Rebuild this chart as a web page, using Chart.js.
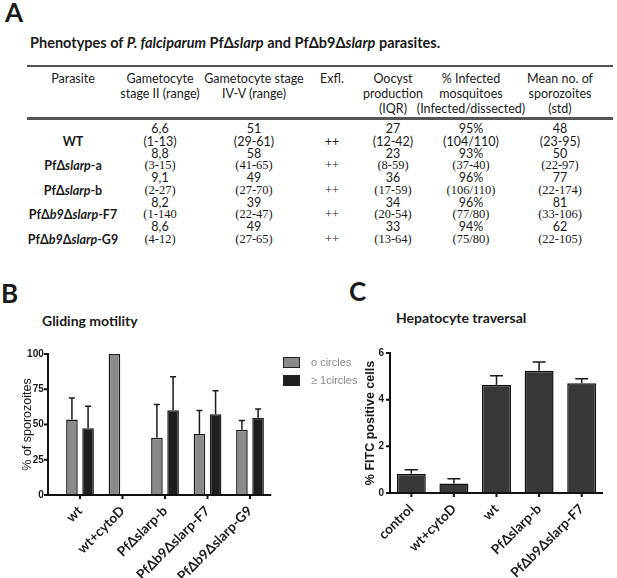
<!DOCTYPE html>
<html>
<head>
<meta charset="utf-8">
<script src="https://cdn.jsdelivr.net/npm/chart.js@4"></script>
<style>
  body { margin: 0; background: #fff; }
  #page { position: relative; width: 617px; height: 578px; overflow: hidden; font-family: Lato, "Open Sans", sans-serif; color: #1a1a1a; }
  .abs { position: absolute; white-space: nowrap; }
  .big { font-weight: bold; font-size: 26px; }
  .ttl { font-weight: bold; font-size: 14px; }
  .cell { position: absolute; white-space: nowrap; transform: translate(-50%, -50%); font-size: 12.5px; }
  .serif { font-family: "Liberation Serif", serif; font-size: 12.5px; }
  .name { font-weight: bold; }
  .hline { position: absolute; left: 27px; width: 586px; background: #555; }
  canvas { position: absolute; }
  .leg { position: absolute; font-family: "Liberation Sans", Arial, sans-serif; font-size: 11px; color: #8a8a8a; white-space: nowrap; }
  .legbox { position: absolute; width: 15px; height: 9px; border: 1.5px solid #222; }
</style>
</head>
<body>
<div id="page">
  <div class="abs big" style="left:5px; top:-4px;">A</div>
  <div class="abs ttl" style="left:30px; top:34px; font-size:14.5px;">Phenotypes of <i>P. falciparum</i> PfΔ<i>slarp</i> and PfΔb9Δ<i>slarp</i> parasites.</div>
  <div class="hline" style="top:65px; height:1.5px;"></div>
  <div class="hline" style="top:117px; height:2.5px;"></div>
  <div id="table"></div>

  <div class="abs big" style="left:1px; top:277px;">B</div>
  <div class="abs ttl" style="left:42px; top:312px;">Gliding motility</div>
  <div class="abs big" style="left:349px; top:275px;">C</div>
  <div class="abs ttl" style="left:396px; top:309px;">Hepatocyte traversal</div>

  <canvas id="motility" width="310" height="248" style="left:0; top:330px;"></canvas>
  <canvas id="traversal" width="307" height="248" style="left:310px; top:330px;"></canvas>
  <div id="legend"></div>
</div>

<script>
// ---- table A ----
const headers = [
  ['Parasite'],
  ['Gametocyte', 'stage II (range)'],
  ['Gametocyte stage', 'IV-V (range)'],
  ['Exfl.'],
  ['Oocyst', 'production', '(IQR)'],
  ['% Infected', 'mosquitoes', '(Infected/dissected)'],
  ['Mean no. of', 'sporozoites', '(std)']
];
const parasites = ['WT', 'PfΔ<i>slarp</i>-a', 'PfΔ<i>slarp</i>-b', 'PfΔ<i>b9</i>Δ<i>slarp</i>-F7', 'PfΔ<i>b9</i>Δ<i>slarp</i>-G9'];
const gamII = ['6,6', '8,8', '9,1', '8,2', '8,6'];
const gamIIRange = ['(1-13)', '(3-15)', '(2-27)', '(1-140', '(4-12)'];
const gamIV = ['51', '58', '49', '39', '49'];
const gamIVRange = ['(29-61)', '(41-65)', '(27-70)', '(22-47)', '(27-65)'];
const exfl = ['++', '++', '++', '++', '++'];
const oocysts = ['27', '23', '36', '34', '33'];
const oocystIQR = ['(12-42)', '(8-59)', '(17-59)', '(20-54)', '(13-64)'];
const infected = ['95%', '93%', '96%', '96%', '94%'];
const infectedRatio = ['(104/110)', '(37-40)', '(106/110)', '(77/80)', '(75/80)'];
const sporozoites = ['48', '50', '77', '81', '62'];
const sporozoitesStd = ['(23-95)', '(22-97)', '(22-174)', '(33-106)', '(22-105)'];

const colX = [73, 160, 254, 332, 393, 471, 560];
const tableEl = document.getElementById('table');
function cell(x, y, html, cls) {
  const d = document.createElement('div');
  d.className = 'cell ' + (cls || '');
  d.style.left = x + 'px';
  d.style.top = y + 'px';
  d.innerHTML = html;
  tableEl.appendChild(d);
}
headers.forEach((lines, c) => lines.forEach((t, i) => cell(colX[c], 78 + i * 15, t)));

const topLine = [gamII, gamIV, null, oocysts, infected, sporozoites];
const bottomLine = [gamIIRange, gamIVRange, exfl, oocystIQR, infectedRatio, sporozoitesStd];
parasites.forEach((name, r) => {
  const y1 = 128 + r * 24.5, y2 = y1 + 12.5;
  cell(colX[0], y2, name, 'name');
  topLine.forEach((arr, c) => { if (arr) cell(colX[c + 1], y1, arr[r]); });
  bottomLine.forEach((arr, c) => cell(colX[c + 1], y2, arr[r], r === 0 ? '' : 'serif'));
});

// ---- chart data ----
const motilityLabels = ['wt', 'wt+cytoD', 'PfΔslarp-b', 'PfΔb9Δslarp-F7', 'PfΔb9Δslarp-G9'];
const zeroCircles = [53.5, 100, 40.6, 43.2, 46.2];
const zeroCirclesErr = [15.3, 0, 23.5, 16.7, 6.7];
const oneCircles = [47.4, null, 60.1, 57.3, 54.7];
const oneCirclesErr = [15.5, 0, 23.7, 16.7, 6.3];

const traversalLabels = ['control', 'wt+cytoD', 'wt', 'PfΔslarp-b', 'PfΔb9Δslarp-F7'];
const fitcPositive = [0.82, 0.41, 4.64, 5.24, 4.70];
const fitcPositiveErr = [0.18, 0.2, 0.39, 0.37, 0.2];

// error bars (upper only) + prism-style axes
const prismPlugin = {
  id: 'prism',
  afterDatasetsDraw(chart, args, opts) {
    const ctx = chart.ctx;
    const y = chart.scales.y, x = chart.scales.x;
    const area = chart.chartArea;
    ctx.save();
    ctx.strokeStyle = '#1a1a1a';
    ctx.lineWidth = 1.5;
    chart.data.datasets.forEach((ds, i) => {
      const meta = chart.getDatasetMeta(i);
      meta.data.forEach((bar, j) => {
        const v = ds.data[j], e = ds.errors[j];
        if (v == null || !e) return;
        const top = y.getPixelForValue(v + e);
        ctx.beginPath();
        ctx.moveTo(bar.x, bar.y);
        ctx.lineTo(bar.x, top);
        ctx.moveTo(bar.x - opts.cap / 2, top);
        ctx.lineTo(bar.x + opts.cap / 2, top);
        ctx.stroke();
      });
    });
    // axes
    ctx.lineWidth = 2;
    ctx.strokeStyle = '#111';
    ctx.beginPath();
    ctx.moveTo(opts.x0, area.top - 1);
    ctx.lineTo(opts.x0, area.bottom);
    ctx.lineTo(area.right, area.bottom);
    y.ticks.forEach(t => {
      const py = y.getPixelForValue(t.value);
      ctx.moveTo(opts.x0 - 4, py);
      ctx.lineTo(opts.x0, py);
    });
    x.ticks.forEach((t, i) => {
      const px = x.getPixelForTick(i);
      ctx.moveTo(px, area.bottom);
      ctx.lineTo(px, area.bottom + 4);
    });
    ctx.stroke();
    ctx.restore();
  }
};

function makeChart(id, cfg) {
  return new Chart(document.getElementById(id), {
    type: 'bar',
    data: { labels: cfg.labels, datasets: cfg.datasets },
    options: {
      responsive: false,
      animation: false,
      layout: { padding: cfg.padding },
      plugins: { legend: { display: false }, tooltip: { enabled: false }, prism: { x0: cfg.x0, cap: cfg.cap } },
      scales: {
        x: {
          grid: { display: false, drawTicks: true, tickLength: 6 },
          border: { display: false },
          ticks: { maxRotation: 45, minRotation: 45, autoSkip: false, padding: 2, color: '#1a1a1a',
                   font: { family: 'Lato', weight: 'bold', size: 13.5 } },
          afterFit: s => { s.height = cfg.xHeight; }
        },
        y: {
          min: 0, max: cfg.yMax,
          grid: { display: false, drawTicks: true, tickLength: cfg.yTick },
          border: { display: false },
          ticks: { stepSize: cfg.yStep, padding: 2, color: '#1a1a1a',
                   font: { family: 'Liberation Sans', weight: 'bold', size: 10 } },
          title: { display: true, text: cfg.yTitle, color: '#1a1a1a', padding: { top: cfg.titlePad, bottom: 0 },
                   font: { family: 'Liberation Sans', size: 12.5, weight: cfg.titleWeight } },
          afterFit: s => { s.width = cfg.yWidth; }
        }
      }
    },
    plugins: [prismPlugin]
  });
}

const motilityChart = makeChart('motility', {
  labels: motilityLabels,
  datasets: [
    { label: 'o circles', data: zeroCircles, errors: zeroCirclesErr, backgroundColor: '#8a8a8a', borderColor: '#1e1e1e',
      borderWidth: 1.5, categoryPercentage: 0.76, barPercentage: 0.72 },
    { label: '≥ 1circles', data: oneCircles, errors: oneCirclesErr, backgroundColor: '#1e1e1e', borderColor: '#1e1e1e',
      borderWidth: 1.5, categoryPercentage: 0.76, barPercentage: 0.72 }
  ],
  padding: { left: 0, right: 38.75, top: 24, bottom: 0 },
  x0: 48, cap: 6, xHeight: 83, yMax: 100, yStep: 25, yTick: 13, yWidth: 58.75,
  yTitle: '% of sporozoites', titlePad: 20, titleWeight: 'normal'
});

makeChart('traversal', {
  labels: traversalLabels,
  datasets: [
    { label: 'FITC', data: fitcPositive, errors: fitcPositiveErr, backgroundColor: '#383838', borderColor: '#111',
      borderWidth: 1.5, categoryPercentage: 0.8, barPercentage: 0.85 }
  ],
  padding: { left: 0, right: 14, top: 23, bottom: 0 },
  x0: 80, cap: 13, xHeight: 85, yMax: 6, yStep: 2, yTick: 4, yWidth: 80,
  yTitle: '% FITC positive cells', titlePad: 53, titleWeight: 'bold'
});

// legend for B
const legendEl = document.getElementById('legend');
motilityChart.data.datasets.forEach((ds, i) => {
  const y = 357 + i * 18;
  const box = document.createElement('div');
  box.className = 'legbox';
  box.style.left = '283px';
  box.style.top = y + 'px';
  box.style.background = ds.backgroundColor;
  legendEl.appendChild(box);
  const t = document.createElement('div');
  t.className = 'leg';
  t.style.left = '311px';
  t.style.top = (y - 1) + 'px';
  t.textContent = ds.label;
  legendEl.appendChild(t);
});
</script>
</body>
</html>
